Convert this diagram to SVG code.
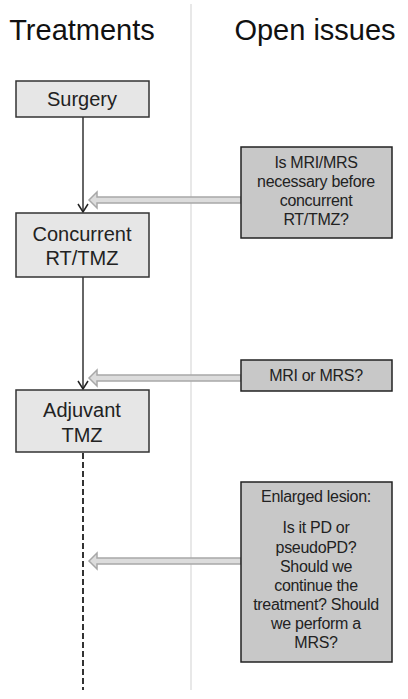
<svg xmlns="http://www.w3.org/2000/svg" width="408" height="699" viewBox="0 0 408 699">
<defs>
<style>
.title{font-family:"Liberation Sans",Arial,sans-serif;font-size:29px;fill:#111;text-anchor:middle}
.tx{font-family:"Liberation Sans",Arial,sans-serif;font-size:20px;fill:#222;text-anchor:middle}
.sx{font-family:"Liberation Sans",Arial,sans-serif;font-size:16px;fill:#222;text-anchor:middle;letter-spacing:-0.3px}
.tbox{fill:#e6e6e6;stroke:#333;stroke-width:1.5}
.ibox{fill:#c8c8c8;stroke:#222;stroke-width:1.5}
.flow{stroke:#333;stroke-width:1.5;fill:none}
.hollow{fill:#dcdcdc;stroke:#a8a8a8;stroke-width:1.5}
</style>
<marker id="vhead" markerWidth="10" markerHeight="12" refX="9" refY="6" orient="auto" markerUnits="userSpaceOnUse" viewBox="0 0 10 12">
<path d="M1,1 L9,6 L1,11" fill="none" stroke="#222" stroke-width="1.5"/>
</marker>
</defs>
<rect width="408" height="699" fill="#fff"/>
<line x1="191" y1="4" x2="191" y2="690" stroke="#e0e0e0" stroke-width="1.5"/>
<text class="title" x="82" y="40">Treatments</text>
<text class="title" x="315" y="40">Open issues</text>
<g id="connectors">
<line class="flow" x1="83" y1="117" x2="83" y2="212" marker-end="url(#vhead)"/>
<line class="flow" x1="83" y1="277" x2="83" y2="389" marker-end="url(#vhead)"/>
<line x1="83" y1="453" x2="83" y2="690" stroke="#333" stroke-width="2" stroke-dasharray="6,3"/>
<path class="hollow" d="M241,197 L97,197 L97,192 L89,200 L97,208 L97,203 L241,203 Z"/>
<path class="hollow" d="M241,375 L97,375 L97,370 L89,378 L97,386 L97,381 L241,381 Z"/>
<path class="hollow" d="M241,558 L97,558 L97,553 L89,561 L97,569 L97,564 L241,564 Z"/>
</g>
<g id="surgery">
<rect class="tbox" x="16" y="81" width="133" height="36"/>
<text class="tx" x="82" y="106">Surgery</text>
</g>
<g id="concurrent">
<rect class="tbox" x="16" y="213" width="133" height="64"/>
<text class="tx" x="82" y="241">Concurrent</text>
<text class="tx" x="82" y="265">RT/TMZ</text>
</g>
<g id="adjuvant">
<rect class="tbox" x="16" y="390" width="133" height="62"/>
<text class="tx" x="82" y="417">Adjuvant</text>
<text class="tx" x="82" y="442">TMZ</text>
</g>
<g id="issue1">
<rect class="ibox" x="241" y="147" width="151" height="91"/>
<text class="sx" x="316" y="168">Is MRI/MRS</text>
<text class="sx" x="316" y="187">necessary before</text>
<text class="sx" x="316" y="206">concurrent</text>
<text class="sx" x="316" y="225">RT/TMZ?</text>
</g>
<g id="issue2">
<rect class="ibox" x="241" y="360" width="151" height="31"/>
<text class="sx" x="316" y="381">MRI or MRS?</text>
</g>
<g id="issue3">
<rect class="ibox" x="241" y="482" width="151" height="180"/>
<text class="sx" x="316" y="502">Enlarged lesion:</text>
<text class="sx" x="316" y="533">Is it PD or</text>
<text class="sx" x="316" y="553">pseudoPD?</text>
<text class="sx" x="316" y="572">Should we</text>
<text class="sx" x="316" y="591">continue the</text>
<text class="sx" x="316" y="610">treatment? Should</text>
<text class="sx" x="316" y="629">we perform a</text>
<text class="sx" x="316" y="648">MRS?</text>
</g>
</svg>
